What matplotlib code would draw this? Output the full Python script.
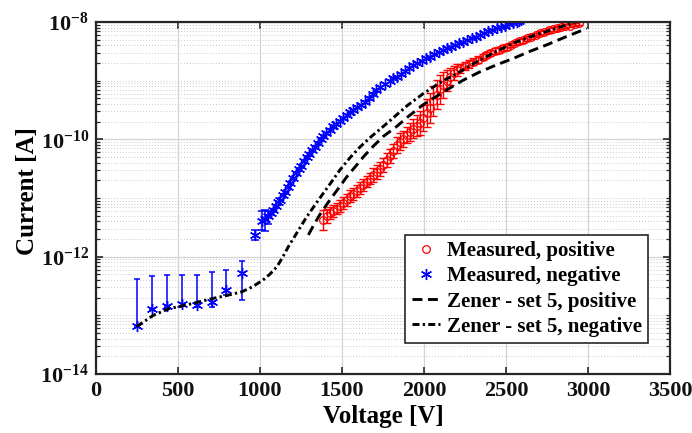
import numpy as np
import matplotlib
matplotlib.use('Agg')
import matplotlib.pyplot as plt
from matplotlib.ticker import FixedLocator, LogLocator, NullFormatter

plt.rcParams['font.family'] = ['Liberation Serif', 'DejaVu Serif']
plt.rcParams['font.weight'] = 'bold'
plt.rcParams['mathtext.fontset'] = 'custom'
plt.rcParams['mathtext.rm'] = 'Liberation Serif:bold'
plt.rcParams['mathtext.default'] = 'rm'

# measured, negative polarity, low voltage part (log10 of current)
neg_low_v = [248, 340, 431, 522, 614, 705, 793, 888]
neg_low_log = [-13.19, -12.90, -12.84, -12.80, -12.82, -12.77, -12.57, -12.28]
neg_low_top = [-12.38, -12.33, -12.31, -12.31, -12.31, -12.27, -12.22, -12.08]
neg_low_bot = [-13.19, -12.90, -12.86, -12.84, -12.86, -12.85, -12.65, -12.74]

# measured, negative polarity, breakdown branch
neg_v = [970, 1010, 1030, 1050, 1065, 1080, 1095, 1110, 1122, 1140, 1155, 1170,
         1185, 1203, 1220, 1235, 1250, 1270, 1285, 1300, 1320, 1335, 1355, 1370,
         1386, 1405, 1425, 1447, 1465, 1485, 1508, 1530, 1550, 1569, 1590, 1615,
         1640, 1665, 1690, 1710, 1732, 1760, 1790, 1810, 1834, 1860, 1885, 1910,
         1935, 1960, 1985, 2010, 2037, 2060, 2090, 2115, 2138, 2165, 2190, 2215,
         2240, 2265, 2290, 2315, 2341, 2365, 2390, 2415, 2443, 2470, 2495, 2520,
         2545, 2565, 2580]
neg_log = [-11.63, -11.40, -11.35, -11.30, -11.25, -11.20, -11.13, -11.07, -11.03,
           -10.95, -10.89, -10.82, -10.75, -10.66, -10.58, -10.51, -10.45, -10.37,
           -10.30, -10.25, -10.18, -10.13, -10.06, -10.00, -9.95, -9.90, -9.84,
           -9.78, -9.74, -9.69, -9.64, -9.59, -9.54, -9.50, -9.45, -9.41, -9.36,
           -9.30, -9.23, -9.16, -9.10, -9.05, -9.00, -8.96, -8.93, -8.88, -8.83,
           -8.78, -8.73, -8.70, -8.66, -8.62, -8.59, -8.55, -8.51, -8.48, -8.45,
           -8.42, -8.39, -8.36, -8.34, -8.31, -8.28, -8.25, -8.22, -8.19, -8.16,
           -8.14, -8.11, -8.08, -8.06, -8.03, -8.01, -8.00, -7.99]
# error bars visible only for the first few points of this branch
neg_err_v = [970, 1010, 1030, 1050]
neg_err_log = [-11.63, -11.40, -11.35, -11.30]
neg_err_top = [-11.55, -11.22, -11.20, -11.22]
neg_err_bot = [-11.72, -11.55, -11.57, -11.45]

# measured, positive polarity
pos_v = [1386, 1406, 1427, 1447, 1468, 1488, 1508, 1529, 1549, 1569, 1590, 1610,
         1630, 1650, 1671, 1691, 1712, 1732, 1752, 1773, 1793, 1813, 1834, 1854,
         1875, 1895, 1915, 1935, 1956, 1976, 1996, 2016, 2037, 2057, 2077, 2098,
         2118, 2138, 2159, 2180, 2200, 2220, 2250, 2275, 2301, 2330, 2360, 2380,
         2402, 2430, 2455, 2480, 2504, 2530, 2555, 2580, 2606, 2630, 2655, 2680,
         2707, 2730, 2760, 2785, 2809, 2835, 2860, 2890, 2921, 2945]
pos_log = [-11.37, -11.30, -11.26, -11.22, -11.18, -11.14, -11.09, -11.04, -10.97,
           -10.93, -10.88, -10.83, -10.78, -10.72, -10.67, -10.61, -10.55, -10.50,
           -10.43, -10.36, -10.28, -10.20, -10.10, -10.04, -9.99, -9.93, -9.88,
           -9.82, -9.77, -9.72, -9.64, -9.55, -9.47, -9.35, -9.24, -9.15, -9.07,
           -9.00, -8.93, -8.87, -8.82, -8.79, -8.75, -8.71, -8.68, -8.64, -8.59,
           -8.56, -8.53, -8.50, -8.47, -8.45, -8.42, -8.39, -8.36, -8.33, -8.31,
           -8.28, -8.25, -8.22, -8.19, -8.17, -8.14, -8.12, -8.11, -8.09, -8.07,
           -8.06, -8.04, -8.02]
pos_err = [0.17, 0.12, 0.10, 0.10, 0.10, 0.10, 0.10, 0.10, 0.10, 0.10, 0.10, 0.10,
           0.10, 0.10, 0.10, 0.12, 0.12, 0.12, 0.12, 0.12, 0.12, 0.12, 0.14, 0.14,
           0.14, 0.14, 0.15, 0.16, 0.18, 0.20, 0.22, 0.24, 0.26, 0.26, 0.25, 0.24,
           0.22, 0.18, 0.15, 0.12, 0.10, 0.08, 0.07, 0.07, 0.06, 0.06, 0.05, 0.05,
           0.05, 0.05, 0.05, 0.05, 0.05, 0.04, 0.04, 0.04, 0.04, 0.04, 0.04, 0.04,
           0.04, 0.04, 0.04, 0.04, 0.04, 0.03, 0.03, 0.03, 0.03, 0.03]

# Zener model, set 5
zp_v = [1295, 1330, 1366, 1400, 1427, 1480, 1529, 1580, 1630, 1690, 1752, 1834,
        1900, 2000, 2138, 2240, 2341, 2443, 2545, 2646, 2748, 2850, 2992]
zp_log = [-11.63, -11.45, -11.28, -11.14, -11.03, -10.83, -10.64, -10.47, -10.30,
          -10.12, -9.95, -9.78, -9.62, -9.40, -9.16, -8.99, -8.85, -8.73, -8.62,
          -8.50, -8.39, -8.27, -8.11]
zn_v = [248, 350, 450, 512, 600, 700, 800, 888, 950, 1018, 1060, 1104, 1140, 1173,
        1230, 1285, 1340, 1386, 1440, 1488, 1550, 1610, 1680, 1752, 1834, 1900,
        1996, 2100, 2199, 2270, 2341, 2443, 2545, 2650, 2748, 2870, 2920]
zn_log = [-13.19, -13.00, -12.88, -12.85, -12.79, -12.72, -12.66, -12.60, -12.52,
          -12.40, -12.30, -12.17, -12.00, -11.83, -11.57, -11.32, -11.10, -10.92,
          -10.71, -10.52, -10.31, -10.13, -9.95, -9.78, -9.58, -9.42, -9.22, -9.03,
          -8.88, -8.76, -8.65, -8.50, -8.36, -8.25, -8.16, -8.05, -8.01]

fig = plt.figure(figsize=(6.92, 4.33), dpi=100)
ax = fig.add_axes([0.1387, 0.1363, 0.8295, 0.8129])

def p10(a):
    return 10.0 ** np.asarray(a)

blue = '#0000ff'
red = '#ff0000'
star = (6, 2, 0)

# error bars
nl = p10(neg_low_log)
ax.errorbar(neg_low_v, nl, yerr=[nl - p10(neg_low_bot), p10(neg_low_top) - nl],
            fmt='none', ecolor=blue, elinewidth=1.1, capsize=2.5, capthick=1.1)
ne = p10(neg_err_log)
ax.errorbar(neg_err_v, ne, yerr=[ne - p10(neg_err_bot), p10(neg_err_top) - ne],
            fmt='none', ecolor=blue, elinewidth=1.1, capsize=3, capthick=1.1)
pl = np.asarray(pos_log)
pe = np.asarray(pos_err)
pc = p10(pl)
ax.errorbar(pos_v, pc, yerr=[pc - p10(pl - pe), p10(pl + pe) - pc],
            fmt='none', ecolor=red, elinewidth=1.0, capsize=3, capthick=1.0)

ax.plot(pos_v, pc, 'o', ms=5.5, mfc='none', mec=red, mew=0.9,
        label='Measured, positive')
ax.plot(neg_low_v + neg_v, p10(neg_low_log + neg_log), ls='none', marker=star,
        ms=8, color=blue, mew=1.0, label='Measured, negative')
ax.plot(zp_v, p10(zp_log), color='black', lw=2.1, ls=(0, (3.4, 1.9)),
        label='Zener - set 5, positive')
ax.plot(zn_v, p10(zn_log), color='black', lw=2.1, ls=(0, (2.4, 1.1, 0.8, 1.1)),
        label='Zener - set 5, negative')

ax.set_yscale('log')
ax.set_xlim(0, 3500)
ax.set_ylim(1e-14, 1e-8)
ax.set_xticks(np.arange(0, 3501, 500))
ax.yaxis.set_major_locator(FixedLocator([1e-14, 1e-12, 1e-10, 1e-8]))
ax.yaxis.set_minor_locator(LogLocator(base=10, subs=np.arange(1, 10), numticks=100))
ax.yaxis.set_minor_formatter(NullFormatter())
ax.set_yticklabels([r'$10^{-14}$', r'$10^{-12}$', r'$10^{-10}$', r'$10^{-8}$'])

ax.grid(True, which='major', color='#d4d4d4', lw=0.9, ls='-')
ax.grid(True, which='minor', axis='y', color='#c8c8c8', lw=0.7, ls=(0, (1, 2)))
ax.set_axisbelow(True)

ax.tick_params(which='both', direction='in', top=True, right=True,
               labelsize=16, colors='#262626', labelcolor='#111111')
ax.tick_params(which='major', length=5, width=1.2)
ax.tick_params(axis='x', which='major', pad=5)
ax.tick_params(axis='y', which='major', pad=5)
ax.tick_params(which='minor', length=3, width=0.9)
for s in ax.spines.values():
    s.set_linewidth(1.6)
    s.set_color('#262626')

ax.set_xlabel('Voltage [V]', fontsize=18, fontweight='bold', labelpad=3)
ax.set_ylabel('Current [A]', fontsize=18, fontweight='bold', labelpad=2)
ax.yaxis.set_label_coords(-0.1, 0.52)

leg = ax.legend(loc='lower right', bbox_to_anchor=(0.962, 0.088), fontsize=15,
                frameon=True, fancybox=False, edgecolor='#262626', framealpha=1,
                handlelength=1.35, handletextpad=0.35, labelspacing=0.25,
                borderpad=0.3, borderaxespad=0)
leg.get_frame().set_linewidth(1.2)
for t in leg.get_texts():
    t.set_fontweight('bold')

fig.savefig('out.png', dpi=100)
